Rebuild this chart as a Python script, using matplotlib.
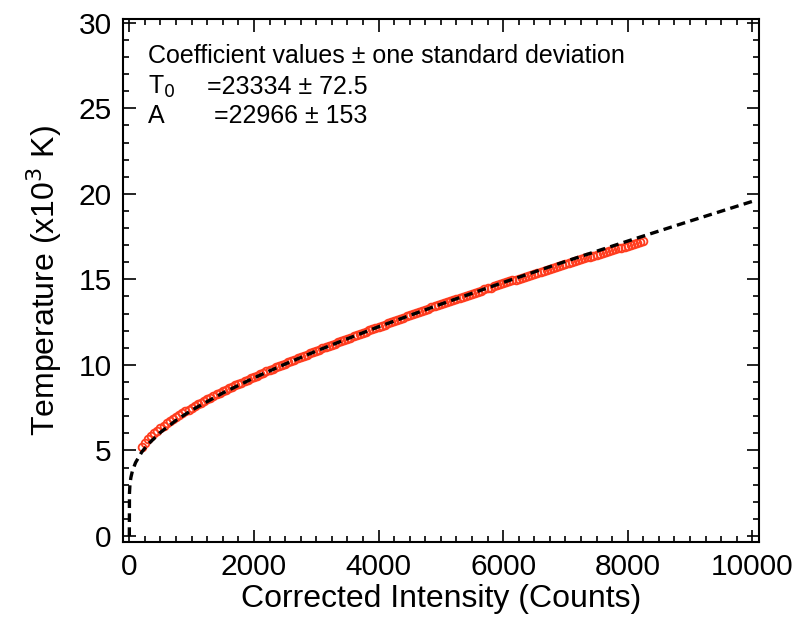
import matplotlib.pyplot as plt
from matplotlib.ticker import MultipleLocator

plt.rcParams['font.family'] = ['Liberation Sans', 'DejaVu Sans']

# measured points (corrected intensity, temperature in 10^3 K)
intensity = [200, 250, 300, 350, 400, 450, 500, 550, 600, 650, 700, 750, 800, 850,
             900, 950, 1000, 1050, 1100, 1150, 1200, 1250, 1300, 1350, 1400, 1450,
             1500, 1550, 1600, 1650, 1700, 1750, 1800, 1850, 1900, 1950, 2000,
             2050, 2100, 2150, 2200, 2250, 2300, 2350, 2400, 2450, 2500, 2550,
             2600, 2650, 2700, 2750, 2800, 2850, 2900, 2950, 3000, 3050, 3100,
             3150, 3200, 3250, 3300, 3350, 3400, 3450, 3500, 3550, 3600, 3650,
             3700, 3750, 3800, 3850, 3900, 3950, 4000, 4050, 4100, 4150, 4200,
             4250, 4300, 4350, 4400, 4450, 4500, 4550, 4600, 4650, 4700, 4750,
             4800, 4850, 4900, 4950, 5000, 5050, 5100, 5150, 5200, 5250, 5300,
             5350, 5400, 5450, 5500, 5550, 5600, 5650, 5700, 5750, 5800, 5850,
             5900, 5950, 6000, 6050, 6100, 6150, 6200, 6250, 6300, 6350, 6400,
             6450, 6500, 6550, 6600, 6650, 6700, 6750, 6800, 6850, 6900, 6950,
             7000, 7050, 7100, 7150, 7200, 7250, 7300, 7350, 7400, 7450, 7500,
             7550, 7600, 7650, 7700, 7750, 7800, 7850, 7900, 7950, 8000, 8050,
             8100, 8150, 8200, 8250]
temperature = [5.21, 5.44, 5.64, 5.83, 6.00, 6.16, 6.30, 6.45, 6.58, 6.71, 6.83,
               6.95, 7.06, 7.17, 7.28, 7.39, 7.50, 7.60, 7.70, 7.80, 7.90, 8.00,
               8.09, 8.19, 8.28, 8.37, 8.46, 8.55, 8.63, 8.72, 8.80, 8.89, 8.97,
               9.05, 9.13, 9.21, 9.29, 9.38, 9.46, 9.54, 9.62, 9.70, 9.78, 9.86,
               9.93, 10.01, 10.08, 10.16, 10.23, 10.31, 10.38, 10.45, 10.52, 10.60,
               10.67, 10.74, 10.81, 10.89, 10.96, 11.03, 11.10, 11.18, 11.25, 11.32,
               11.39, 11.46, 11.53, 11.60, 11.67, 11.74, 11.81, 11.88, 11.95, 12.02,
               12.09, 12.16, 12.23, 12.30, 12.36, 12.43, 12.50, 12.57, 12.63, 12.70,
               12.77, 12.84, 12.90, 12.97, 13.03, 13.10, 13.16, 13.23, 13.29, 13.36,
               13.42, 13.49, 13.55, 13.61, 13.67, 13.73, 13.79, 13.86, 13.92, 13.98,
               14.04, 14.10, 14.16, 14.22, 14.28, 14.35, 14.41, 14.47, 14.52, 14.59,
               14.65, 14.71, 14.76, 14.82, 14.88, 14.94, 14.99, 15.05, 15.10, 15.16,
               15.22, 15.28, 15.33, 15.39, 15.44, 15.50, 15.55, 15.61, 15.67, 15.73,
               15.79, 15.85, 15.90, 15.96, 16.01, 16.07, 16.12, 16.18, 16.23, 16.28,
               16.33, 16.39, 16.44, 16.49, 16.54, 16.59, 16.64, 16.70, 16.76, 16.81,
               16.86, 16.92, 16.97, 17.03, 17.08, 17.13, 17.18, 17.23]

# fit curve
fit_intensity = [0, 2, 10, 25, 50, 100, 200, 300, 500, 750, 1000, 1500, 2000,
                 2500, 3000, 3500, 4000, 5000, 6000, 7000, 8000, 9000, 10000]
fit_temperature = [0.0, 2.50, 3.02, 3.42, 3.81, 4.29, 4.91, 5.36, 6.06, 6.76,
                   7.35, 8.36, 9.24, 10.05, 10.81, 11.53, 12.23, 13.55, 14.82,
                   16.05, 17.24, 18.41, 19.56]

fig = plt.figure(figsize=(7.98, 6.26), dpi=100)
ax = fig.add_axes([0.1538, 0.1337, 0.797, 0.8359])

ax.plot(intensity, temperature, 'o', mfc='none', mec='#ff3c1e', ms=5.6, mew=1.3)
ax.plot(fit_intensity, fit_temperature, color='black', lw=2.4, ls=(0, (2.6, 1.6)))

ax.set_xlim(-106, 10103)
ax.set_ylim(-0.37, 30.22)
ax.xaxis.set_major_locator(MultipleLocator(2000))
ax.xaxis.set_minor_locator(MultipleLocator(250))
ax.yaxis.set_major_locator(MultipleLocator(5))
ax.yaxis.set_minor_locator(MultipleLocator(1))
ax.tick_params(which='both', direction='in', top=True, right=True, width=1.2,
               labelsize=21.5, pad=8)
ax.tick_params(which='major', length=9)
ax.tick_params(which='minor', length=4.5)
for s in ax.spines.values():
    s.set_linewidth(1.5)

ax.set_xlabel('Corrected Intensity (Counts)', fontsize=23, labelpad=2)
ax.set_ylabel('Temperature (x10$^3$ K)', fontsize=23, labelpad=10)

fs = 18
fig.text(148 / 798, 1 - 56 / 626, 'Coefficient values \u00b1 one standard deviation',
         fontsize=fs, va='center')
fig.text(148 / 798, 1 - 87 / 626, 'T$_0$', fontsize=fs, va='center')
fig.text(207 / 798, 1 - 87 / 626, '=23334 \u00b1 72.5', fontsize=fs, va='center')
fig.text(148 / 798, 1 - 116 / 626, 'A', fontsize=fs, va='center')
fig.text(214 / 798, 1 - 116 / 626, '=22966 \u00b1 153', fontsize=fs, va='center')

fig.savefig('out.png', dpi=100)
